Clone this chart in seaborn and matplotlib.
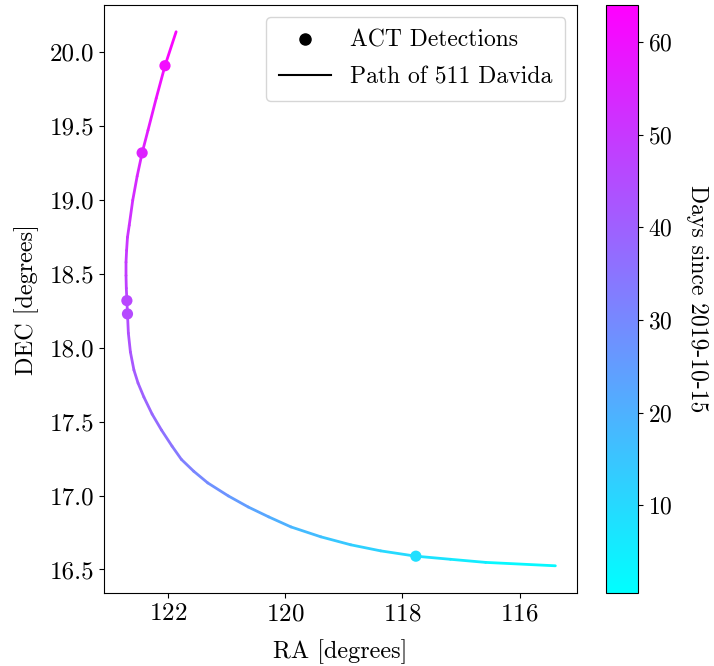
import numpy as np
import matplotlib
matplotlib.use("Agg")
import matplotlib.pyplot as plt
import seaborn as sns
from matplotlib.collections import LineCollection
from matplotlib.lines import Line2D
from matplotlib.colors import Normalize
from matplotlib.cm import ScalarMappable

# Ephemeris of 511 Davida (sky position and days since 2019-10-15)
path_ra = [115.39, 116.58, 117.18, 117.77, 118.37, 118.88, 119.39, 119.90,
           120.28, 120.63, 120.97, 121.32, 121.56, 121.77, 121.93, 122.11,
           122.27, 122.41, 122.51, 122.58, 122.64, 122.675, 122.69, 122.70,
           122.71, 122.715, 122.715, 122.705, 122.69, 122.66, 122.60, 122.525,
           122.44, 122.34, 122.20, 122.05, 121.86]
path_dec = [16.525, 16.548, 16.569, 16.59, 16.626, 16.667, 16.721, 16.788,
            16.856, 16.923, 16.998, 17.086, 17.165, 17.245, 17.335, 17.444,
            17.552, 17.667, 17.762, 17.850, 17.972, 18.100, 18.23, 18.32,
            18.404, 18.49, 18.58, 18.66, 18.749, 18.830, 19.00, 19.162,
            19.32, 19.473, 19.689, 19.91, 20.14]
path_days = [0.5, 4.0, 6.5, 8.5, 11.0, 13.0, 16.0, 19.0,
             21.5, 24.0, 26.5, 29.0, 31.0, 33.0, 34.8, 36.5,
             38.0, 39.5, 40.5, 41.5, 43.0, 44.0, 45.5, 46.5,
             47.5, 48.5, 49.3, 50.0, 50.8, 51.5, 52.5, 54.0,
             55.5, 57.0, 59.0, 61.0, 64.0]

# ACT detections
det_ra = [117.77, 122.69, 122.70, 122.44, 122.05]
det_dec = [16.59, 18.23, 18.32, 19.32, 19.91]
det_days = [8.5, 45.5, 46.5, 55.5, 61.0]

plt.rcParams["font.family"] = "cmr10"
plt.rcParams["mathtext.fontset"] = "cm"
plt.rcParams["axes.formatter.use_mathtext"] = True
plt.rcParams["axes.unicode_minus"] = False

cmap = plt.get_cmap("cool")
norm = Normalize(vmin=min(path_days), vmax=max(path_days))

fig = plt.figure(figsize=(7.14, 6.66), dpi=100)
ax = fig.add_axes([0.1457, 0.1092, 0.6625, 0.8833])
cax = fig.add_axes([0.8487, 0.1092, 0.0448, 0.8833])

# Path coloured by time
pts = np.column_stack([path_ra, path_dec]).reshape(-1, 1, 2)
segs = np.concatenate([pts[:-1], pts[1:]], axis=1)
seg_days = 0.5 * (np.array(path_days[:-1]) + np.array(path_days[1:]))
lc = LineCollection(segs, cmap=cmap, norm=norm, linewidth=2.0,
                    capstyle="round", joinstyle="round")
lc.set_array(seg_days)
lc.set_snap(False)
ax.add_collection(lc)

sns.scatterplot(x=det_ra, y=det_dec, hue=det_days, palette="cool",
                hue_norm=(norm.vmin, norm.vmax), s=65, edgecolor="none",
                legend=False, ax=ax, zorder=3)

ax.set_xlim(123.09, 115.02)
ax.set_ylim(16.339, 20.321)
ax.set_xticks([122, 120, 118, 116])
ax.set_yticks([16.5, 17.0, 17.5, 18.0, 18.5, 19.0, 19.5, 20.0])
ax.set_yticklabels(["16.5", "17.0", "17.5", "18.0", "18.5", "19.0", "19.5", "20.0"])
ax.tick_params(labelsize=18)
ax.set_xlabel("RA [degrees]", fontsize=17.5, labelpad=10)
ax.set_ylabel("DEC [degrees]", fontsize=17.5, labelpad=8)

handles = [
    Line2D([], [], marker="o", color="black", linestyle="none", markersize=8),
    Line2D([], [], color="black", linewidth=1.5),
]
ax.legend(handles, ["ACT Detections", "Path of 511 Davida"], loc="upper right",
          fontsize=17, borderpad=0.55, labelspacing=0.6, handlelength=2.2)

cb = fig.colorbar(ScalarMappable(norm=norm, cmap=cmap), cax=cax)
cb.set_ticks([10, 20, 30, 40, 50, 60])
cb.ax.tick_params(labelsize=17)
cb.set_label("Days since 2019-10-15", rotation=270, fontsize=17, labelpad=26)

fig.savefig("out.png", dpi=100)
